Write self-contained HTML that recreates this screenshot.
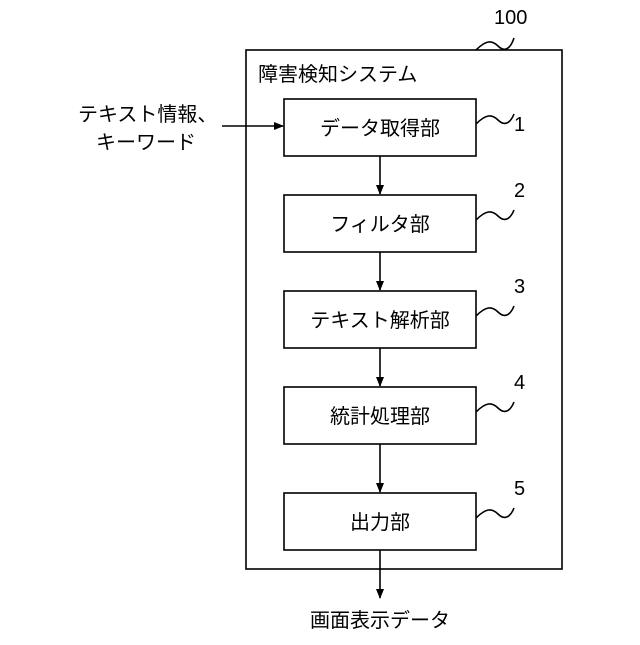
<!DOCTYPE html>
<html><head><meta charset="utf-8"><style>
body{margin:0;background:#fff}
text{font-family:"Liberation Sans","Noto Sans CJK JP",sans-serif;fill:#000}
</style></head><body>
<svg width="640" height="640" viewBox="0 0 640 640" xmlns="http://www.w3.org/2000/svg">
<defs><marker id="a" markerWidth="10" markerHeight="10" refX="9" refY="5" orient="auto" markerUnits="userSpaceOnUse"><path d="M0,1 L10,5 L0,9 z" fill="#000"/></marker></defs>
<g fill="none" stroke="#000" stroke-width="1.6">
<rect x="246" y="50" width="316" height="519"/>
<rect x="284" y="99" width="192" height="57"/>
<rect x="284" y="195" width="192" height="57"/>
<rect x="284" y="291" width="192" height="57"/>
<rect x="284" y="387" width="192" height="57"/>
<rect x="284" y="493" width="192" height="57"/>
<line x1="222" y1="126" x2="283" y2="126" marker-end="url(#a)"/>
<line x1="380" y1="156" x2="380" y2="194" marker-end="url(#a)"/>
<line x1="380" y1="252" x2="380" y2="290" marker-end="url(#a)"/>
<line x1="380" y1="348" x2="380" y2="386" marker-end="url(#a)"/>
<line x1="380" y1="444" x2="380" y2="492" marker-end="url(#a)"/>
<line x1="380" y1="550" x2="380" y2="598" marker-end="url(#a)"/>
<path d="M476,124 C486,114 492,114 498,120 C504,126 510,124 514,114"/>
<path d="M476,220 C486,210 492,210 498,216 C504,222 510,220 514,210"/>
<path d="M476,316 C486,306 492,306 498,312 C504,318 510,316 514,306"/>
<path d="M476,412 C486,402 492,402 498,408 C504,414 510,412 514,402"/>
<path d="M476,518 C486,508 492,508 498,514 C504,520 510,518 514,508"/>
<path d="M476,50 C486,40 492,40 498,46 C504,52 510,50 514,38"/>
</g>
<g font-size="20">
<text x="258" y="81">障害検知システム</text>
<text x="380" y="135" text-anchor="middle">データ取得部</text>
<text x="380" y="231" text-anchor="middle">フィルタ部</text>
<text x="380" y="327" text-anchor="middle">テキスト解析部</text>
<text x="380" y="423" text-anchor="middle">統計処理部</text>
<text x="380" y="529" text-anchor="middle">出力部</text>
<text x="380" y="627" text-anchor="middle">画面表示データ</text>
<text x="78" y="121">テキスト情報、</text>
<text x="96" y="149">キーワード</text>
<text x="494" y="24">100</text>
<text x="514" y="131">1</text>
<text x="514" y="197">2</text>
<text x="514" y="293">3</text>
<text x="514" y="389">4</text>
<text x="514" y="495">5</text>
</g>
</svg>
</body></html>
